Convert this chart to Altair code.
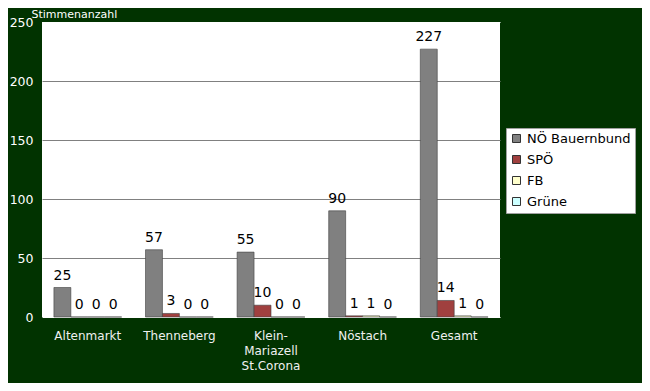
import altair as alt
import pandas as pd

categories = ["Altenmarkt", "Thenneberg", "Klein-Mariazell St.Corona", "Nöstach", "Gesamt"]
series = ["NÖ Bauernbund", "SPÖ", "FB", "Grüne"]
noe_bauernbund = [25, 57, 55, 90, 227]
spoe = [0, 3, 10, 1, 14]
fb = [0, 0, 0, 1, 1]
gruene = [0, 0, 0, 0, 0]
colors = ["#808080", "#A0403F", "#FFFFCC", "#CCFFFF"]

rows = []
for s, vals in zip(series, [noe_bauernbund, spoe, fb, gruene]):
    for c, v in zip(categories, vals):
        rows.append({"Ort": c, "Partei": s, "Stimmen": v})
df = pd.DataFrame(rows)

FONT = "DejaVu Sans"

x_enc = alt.X(
    "Ort:N",
    sort=categories,
    scale=alt.Scale(paddingInner=0.26, paddingOuter=0.13),
    axis=alt.Axis(
        title=None,
        labelAngle=0,
        labelColor="#F0F0F0",
        labelFontSize=12,
        labelFont=FONT,
        labelPadding=13,
        labelLineHeight=15,
        ticks=False,
        domain=False,
        labelExpr="datum.label == 'Klein-Mariazell St.Corona' ? ['Klein-', 'Mariazell', 'St.Corona'] : datum.label",
    ),
)
xoff = alt.XOffset("Partei:N", sort=series, scale=alt.Scale(paddingInner=0, paddingOuter=0))
y_enc = alt.Y(
    "Stimmen:Q",
    scale=alt.Scale(domain=[0, 250], nice=False),
    axis=alt.Axis(
        values=[0, 50, 100, 150, 200, 250],
        title="Stimmenanzahl",
        titleAngle=0,
        titleAlign="left",
        titleBaseline="alphabetic",
        titleX=-11,
        titleY=-5,
        titleColor="white",
        titleFont=FONT,
        titleFontSize=11,
        titleFontWeight="normal",
        labelColor="white",
        labelFont=FONT,
        labelFontSize=12.5,
        labelPadding=9,
        ticks=False,
        domain=False,
        grid=True,
        gridColor=alt.condition("datum.value > 0 && datum.value < 250", alt.value("#808080"), alt.value("white")),
        gridWidth=1,
    ),
)

bars = alt.Chart(df).mark_bar(stroke="#404040", strokeWidth=0.6).encode(
    x=x_enc,
    xOffset=xoff,
    y=y_enc,
    color=alt.Color(
        "Partei:N",
        sort=series,
        scale=alt.Scale(domain=series, range=colors),
        legend=alt.Legend(
            title=None,
            orient="none",
            legendX=464,
            legendY=106,
            fillColor="white",
            strokeColor="#A0A0A0",
            padding=4,
            labelFont=FONT,
            labelFontSize=13,
            labelColor="black",
            symbolType="square",
            symbolSize=64,
            symbolStrokeColor="#333333",
            symbolStrokeWidth=1,
            rowPadding=7,
            labelOffset=4,
        ),
    ),
)

labels = alt.Chart(df).mark_text(
    baseline="bottom", dy=-5, font=FONT, fontSize=14, color="black"
).encode(
    x=alt.X("Ort:N", sort=categories),
    xOffset=alt.XOffset("Partei:N", sort=series),
    y=alt.Y("Stimmen:Q"),
    text="Stimmen:Q",
)

chart = (
    alt.layer(bars, labels)
    .properties(
        width=458,
        height=295,
        background="#013300",
        padding={"left": 34, "top": 14, "right": 142, "bottom": 66},
        autosize=alt.AutoSizeParams(type="none"),
    )
    .configure_view(fill="white", stroke=None)
)

chart.save("out.html", embed_options={"renderer": "svg", "actions": False})
